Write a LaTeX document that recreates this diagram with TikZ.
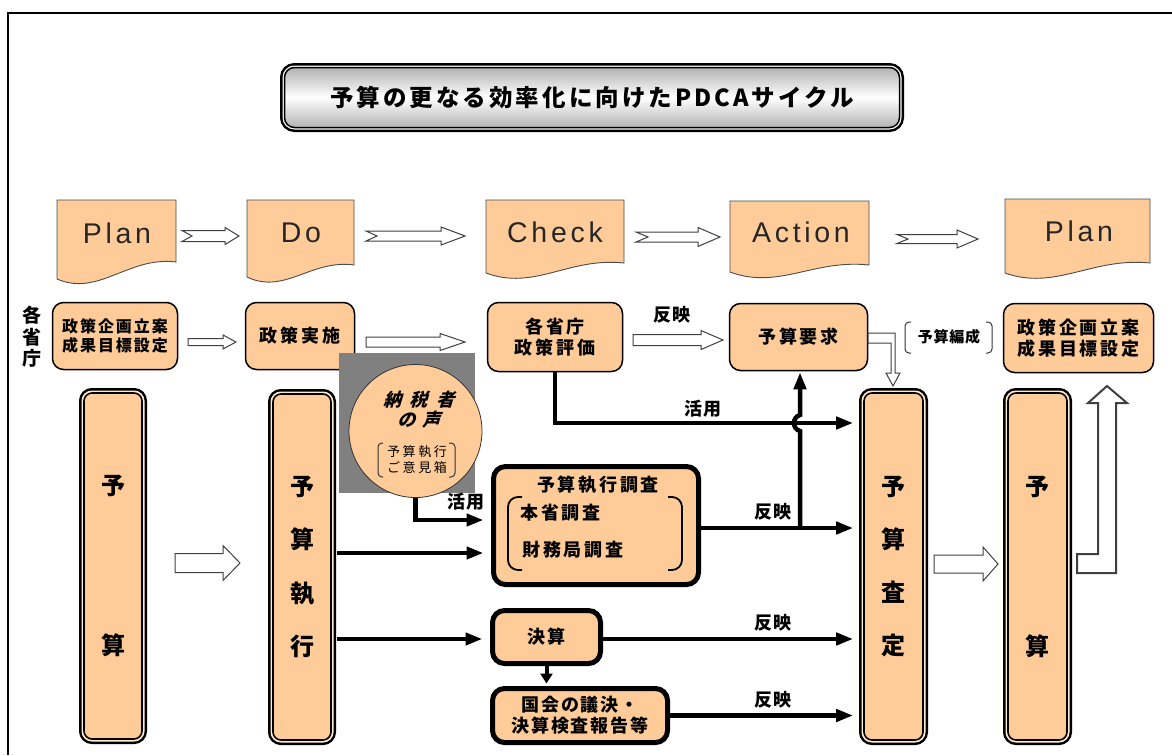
\documentclass[tikz,border=0pt]{standalone}
\usepackage{fontspec}
\setmainfont{Noto Sans CJK JP}
\newfontfamily\lat{Liberation Sans}[LetterSpace=13]
\newfontfamily\jpit{Noto Sans CJK JP}[FakeSlant=0.3]
\usetikzlibrary{arrows.meta}
\definecolor{peach}{RGB}{255,204,153}
\definecolor{cream}{RGB}{255,235,205}
\newcommand\docshape[5]{\draw[doc] (#1,#3) -- (#2,#3) -- (#2,#5) .. controls ({#1+0.6*(#2-#1)},{#5-6}) and ({#1+0.35*(#2-#1)},{#4+18}) .. (#1,#4) -- cycle;}
\newcommand\blockarrow[7]{\draw[harrow] (#1,{#3-#4}) -- ({#2-#6},{#3-#4}) -- ({#2-#6},{#3-#5}) -- (#2,#3) -- ({#2-#6},{#3+#5}) -- ({#2-#6},{#3+#4}) -- (#1,{#3+#4}) -- ({#1+#7},#3) -- cycle;}
\begin{document}
\begin{tikzpicture}[x=1pt,y=-1pt,
  doc/.style={draw=black!70, line width=0.9pt, fill=peach},
  doctext/.style={font=\lat\fontsize{28.5}{30}\selectfont, text=black!85, inner sep=0pt},
  harrow/.style={draw=black!75, line width=1pt, fill=white},
  box/.style={rectangle, rounded corners=11pt, draw=black, line width=1.5pt, fill=peach, inner sep=0pt, align=center},
  bar/.style={rectangle, rounded corners=8pt, draw=black, line width=1.6pt, fill=peach, inner sep=0pt, align=center,
    preaction={draw=black, line width=10pt}, preaction={draw=cream, line width=5pt}},
  titlebox/.style={rectangle, rounded corners=10pt, draw=black, line width=1.5pt, top color=gray!60, bottom color=gray!60, middle color=white,
    preaction={draw=black, line width=9pt}, preaction={draw=white, line width=4pt}, inner sep=0pt,
    font=\fontsize{23.5}{25}\selectfont\bfseries\addfontfeature{LetterSpace=13}},
  thickbox/.style={rectangle, rounded corners=12pt, draw=black, line width=5pt, fill=peach, inner sep=0pt, align=center},
  conn/.style={line width=4.5pt, -{Triangle[length=17pt,width=12pt]}},
  conn2/.style={line width=4pt, -{Triangle[length=10pt,width=12pt]}},
  j18/.style={font=\fontsize{18}{21}\selectfont\bfseries\addfontfeature{LetterSpace=15}},
  lbl/.style={font=\fontsize{18}{21}\selectfont\bfseries\addfontfeature{LetterSpace=10}},
  brk/.style={draw=black!80, line width=1pt, rounded corners=4pt},
  bigbrk/.style={draw=black, line width=1.8pt, rounded corners=10pt}
]
\useasboundingbox (0,0) rectangle (1172,755);
\fill[white] (0,0) rectangle (1172,755);
\draw[line width=2pt] (1172,13) -- (7.5,13) -- (7.5,755);

% title
\node[titlebox, minimum width=615pt, minimum height=60pt] (title) at (592,97.5) {予算の更なる効率化に向けたPDCAサイクル};

% PDCA documents
\docshape{57}{176}{200}{279}{262}
\docshape{247}{354}{200}{277}{265}
\docshape{486}{624}{200}{273}{263}
\docshape{730}{869}{201}{272}{265}
\docshape{1005}{1150}{199}{273}{263}
\node[doctext] (p1) at (117,233) {Plan};
\node[doctext] (do) at (301,233) {Do};
\node[doctext] (ch) at (555,232) {Check};
\node[doctext] (ac) at (801,232) {Action};
\node[doctext] (p2) at (1079,231) {Plan};

\blockarrow{182}{239}{236}{5.5}{8.5}{14}{10}
\blockarrow{366}{465}{236}{5}{9}{24}{11}
\blockarrow{636}{720}{237}{5}{9.5}{22}{12}
\blockarrow{897}{978}{239}{4.5}{9}{21}{11}

% row 2
\node[font=\fontsize{19}{21.5}\selectfont\bfseries, align=center] (kakusho) at (32,337) {各\\省\\庁};
\node[box, minimum width=125pt, minimum height=67pt, font=\fontsize{16}{19}\selectfont\bfseries\addfontfeature{LetterSpace=12}] (pb1) at (115,336) {政策企画立案\\成果目標設定};
\node[box, j18, minimum width=109pt, minimum height=67pt] (jisshi) at (300,336) {政策実施};
\node[box, j18, minimum width=135pt, minimum height=69pt] (hyoka) at (555,337) {各省庁\\政策評価};
\node[box, j18, minimum width=138pt, minimum height=67pt] (yokyu) at (798.5,337) {予算要求};
\node[box, j18, minimum width=150pt, minimum height=69pt] (pb2) at (1078.5,338) {政策企画立案\\成果目標設定};

\blockarrow{188}{236}{342}{3.5}{7}{13}{0}
\blockarrow{366}{465}{342}{5}{8.5}{25}{0}
\blockarrow{633}{723}{340}{5.5}{9.5}{22}{0}
\node[lbl] (hanei1) at (672,315) {反映};

% budget compilation
\draw[harrow] (868,333) -- (895,333) -- (895,373) -- (900,373) -- (893,386) -- (886,373) -- (891,373) -- (891,343) -- (868,343) -- cycle;
\node[font=\fontsize{15}{17}\selectfont\bfseries\addfontfeature{LetterSpace=5}] (hensei) at (949,337) {予算編成};
\draw[brk] (911,322) -- (905,322) -- (905,353) -- (911,353);
\draw[brk] (986,322) -- (992,322) -- (992,353) -- (986,353);

% bars
\node[bar, minimum width=58pt, minimum height=346pt, font=\fontsize{24}{160}\selectfont\bfseries] (b1) at (113,566) {予\\算};
\node[bar, minimum width=58pt, minimum height=346pt, font=\fontsize{24}{53.3}\selectfont\bfseries] (b2) at (302,567) {予\\算\\執\\行};
\node[bar, minimum width=59pt, minimum height=347pt, font=\fontsize{24}{53.3}\selectfont\bfseries] (b3) at (893.5,566.5) {予\\算\\査\\定};
\node[bar, minimum width=59pt, minimum height=347pt, font=\fontsize{24}{160}\selectfont\bfseries] (b4) at (1037.5,566.5) {予\\算};

\blockarrow{175}{240}{563}{9.5}{17.5}{17}{0}
\blockarrow{934}{998}{564}{9}{17}{15}{0}
\draw[harrow, line width=2pt] (1077,554) -- (1098,554) -- (1098,403) -- (1088,403) -- (1107,386) -- (1127,403) -- (1116,403) -- (1116,573) -- (1077,573) -- cycle;

% taxpayers' voice
\fill[gray] (339,353) rectangle (475,493);
\node[circle, draw=black!80, line width=0.8pt, fill=peach, minimum size=133pt, inner sep=0pt] (koe) at (415.5,431) {};
\node[font=\jpit\bfseries\fontsize{18}{20}\selectfont\addfontfeature{LetterSpace=45}] (koe1) at (419,400) {納税者};
\node[font=\jpit\bfseries\fontsize{18}{20}\selectfont\addfontfeature{LetterSpace=40}] (koe2) at (419,420) {の声};
\node[font=\fontsize{13}{16}\selectfont\addfontfeature{LetterSpace=20}, align=center] (koe3) at (417,460) {予算執行\\ご意見箱};
\draw[brk] (383,443) -- (378,443) -- (378,477) -- (383,477);
\draw[brk] (449,443) -- (455,443) -- (455,477) -- (449,477);

% survey / settlement boxes
\node[thickbox, minimum width=205pt, minimum height=118pt] (chosa) at (596,525.5) {};
\node[j18] (chosaT) at (598,485) {予算執行調査};
\node[j18, anchor=west] (honsho) at (517,513) {本省調査};
\node[j18, anchor=west] (zaimu) at (519,550) {財務局調査};
\draw[bigbrk] (522,497) -- (508,497) -- (508,570) -- (522,570);
\draw[bigbrk] (668,497) -- (682,497) -- (682,570) -- (668,570);
\node[thickbox, lbl, minimum width=108pt, minimum height=53pt] (kessan) at (546.5,637) {決算};
\node[thickbox, lbl, minimum width=175pt, minimum height=54pt] (kokkai) at (580,715.5) {国会の議決・\\決算検査報告等};

% connectors
\draw[conn, shorten >=10pt] (hyoka.south) |- (b3.west |- 0,423);
\node[lbl] (katsuyo1) at (703,409) {活用};
\draw[conn, shorten <=5pt, shorten >=7.5pt] (b2.east |- 0,553) -- (chosa.west |- 0,553);
\draw[conn, shorten <=5pt, shorten >=7.5pt] (b2.east |- 0,639) -- (kessan.west |- 0,639);
\draw[conn, shorten >=7.5pt] (koe.south) |- (chosa.west |- 0,520);
\node[lbl] (katsuyo2) at (466,502) {活用};
\draw[conn, shorten >=10pt] (chosa.east |- 0,528) -- (b3.west |- 0,528);
\node[lbl] (hanei2) at (773,512) {反映};
\coordinate (jct) at (800,528);
\draw[conn, shorten >=1pt] (jct) -- (800,431) .. controls (792,429) and (792,417) .. (800,415) -- (jct |- yokyu.south);
\draw[conn, shorten >=10pt] (kessan.east |- 0,639) -- (b3.west |- 0,639);
\node[lbl] (hanei3) at (773,623) {反映};
\draw[conn, shorten >=10pt] (kokkai.east) -- (kokkai.east -| b3.west);
\node[lbl] (hanei4) at (773,700) {反映};
\draw[conn2, shorten >=2.5pt] (kessan.south) -- (kessan.south |- kokkai.north);
\end{tikzpicture}
\end{document}
